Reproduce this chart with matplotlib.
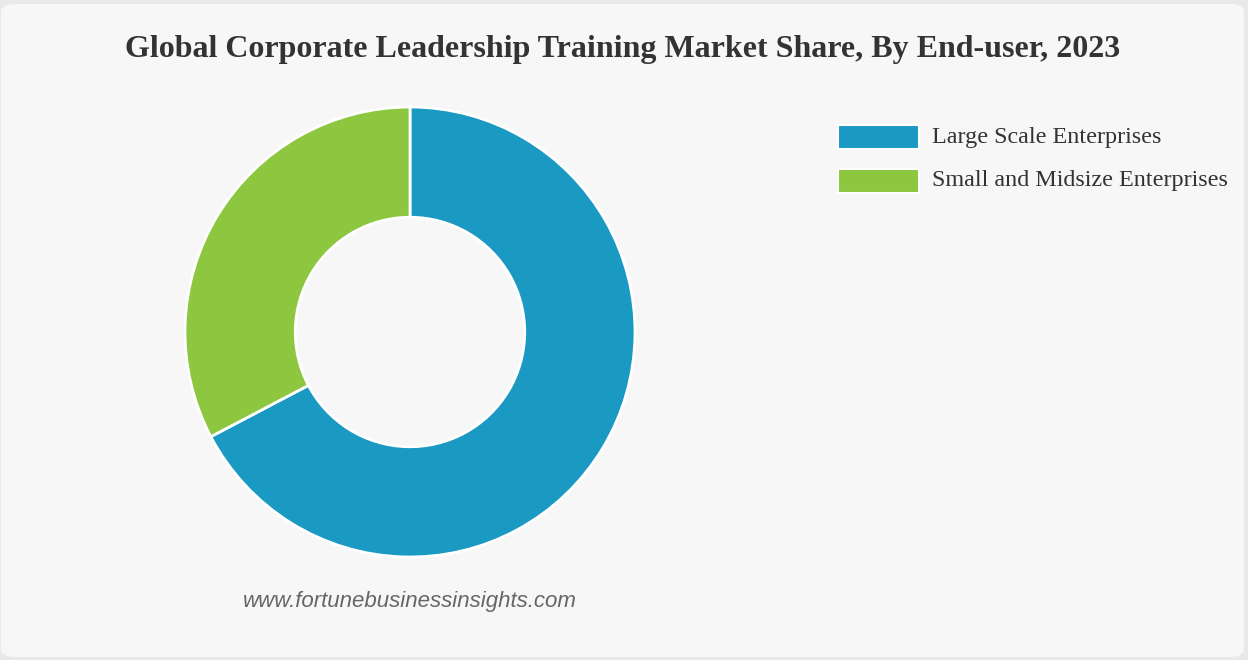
import matplotlib.pyplot as plt
from matplotlib.patches import FancyBboxPatch, Rectangle

# 数据
labels = ['Large Scale Enterprises', 'Small and Midsize Enterprises']
shares = [67.3, 32.7]
colors = ['#1a99c3', '#8dc63f']

title = 'Global Corporate Leadership Training Market Share, By End-user, 2023'
source = 'www.fortunebusinessinsights.com'

W, H = 1248, 660
fig = plt.figure(figsize=(W / 100, H / 100), dpi=100)
fig.patch.set_facecolor('#e9e9e9')

# 背景卡片
card = FancyBboxPatch((1 / W, 3 / H), 1243 / W, 653 / H,
                      boxstyle='round,pad=0,rounding_size=0.012',
                      transform=fig.transFigure, facecolor='#f7f7f7',
                      edgecolor='none', zorder=-5)
fig.patches.append(card)

# 环形图
cx, cy, r = 410, 332, 225
ax = fig.add_axes([(cx - r) / W, (H - cy - r) / H, 2 * r / W, 2 * r / H])
ax.set_zorder(2)
ax.patch.set_visible(False)
ax.pie(shares, colors=colors, startangle=90, counterclock=False, radius=1,
       wedgeprops=dict(width=0.49, edgecolor='white', linewidth=2))
ax.set_xlim(-1, 1)
ax.set_ylim(-1, 1)
ax.set_aspect('equal')
ax.axis('off')

fig.text(623 / W, 1 - 50 / H, title, ha='center', va='center',
         fontsize=23, fontweight='bold', family='Liberation Serif', color='#333333')

# 图例
for i, (lab, c) in enumerate(zip(labels, colors)):
    y = 137 + i * 44
    fig.patches.append(Rectangle((838 / W, 1 - (y + 12) / H), 81 / W, 24 / H,
                                 transform=fig.transFigure, facecolor=c,
                                 edgecolor='white', linewidth=1.5, zorder=1))
    fig.text(932 / W, 1 - y / H, lab, ha='left', va='center',
             fontsize=17.4, family='Liberation Serif', color='#333333')

fig.text(410 / W, 1 - 601 / H, source, ha='center', va='center',
         fontsize=16, style='italic', family='Liberation Sans', color='#666666')

plt.savefig('out.png', dpi=100, facecolor=fig.get_facecolor())
